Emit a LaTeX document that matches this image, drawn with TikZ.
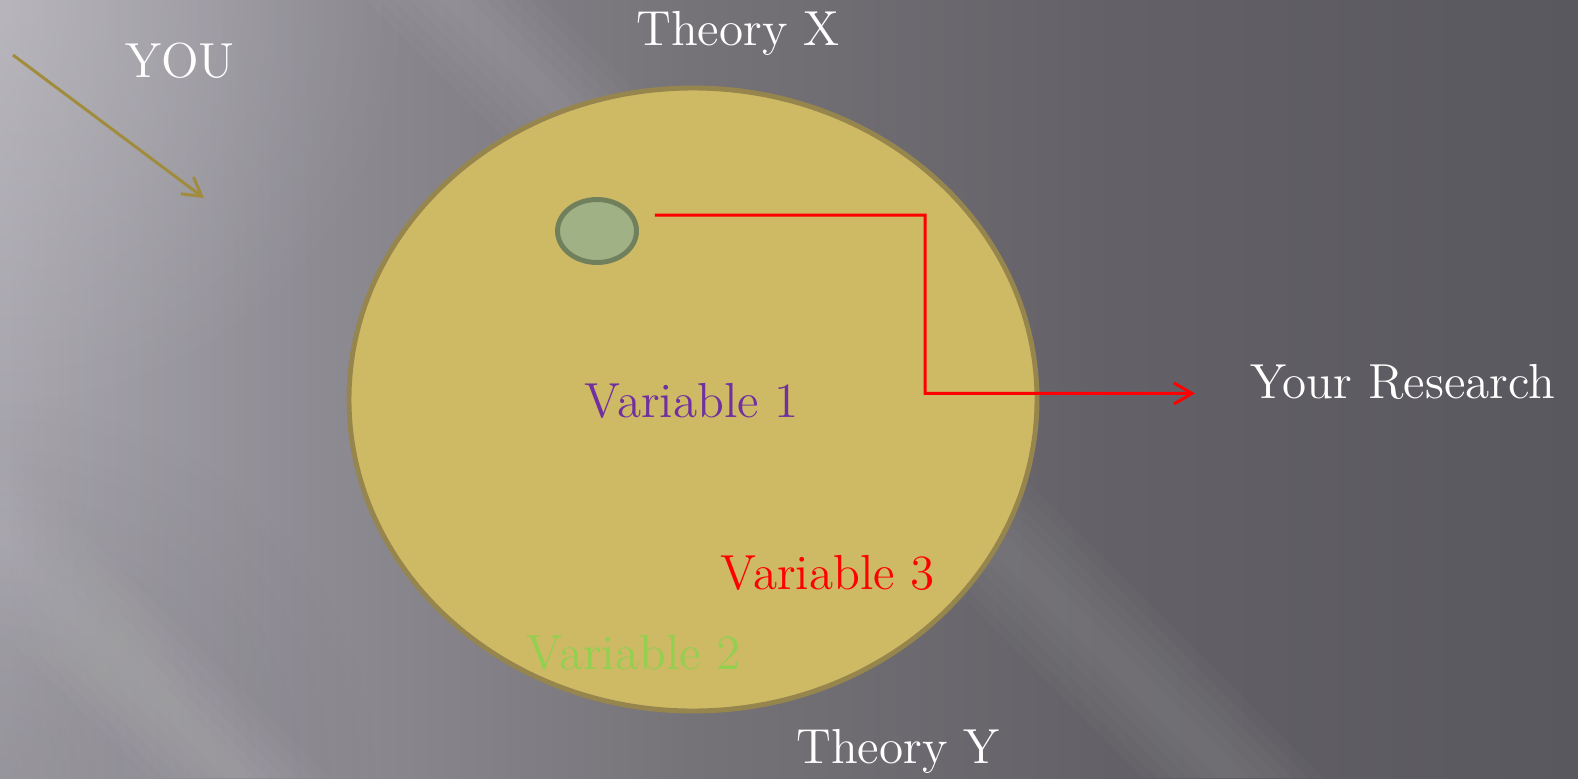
\documentclass[tikz,border=0pt]{standalone}
\usetikzlibrary{shapes.geometric,arrows.meta,fadings}

\definecolor{fieldFill}{RGB}{206,185,100}
\definecolor{fieldLine}{RGB}{150,134,78}
\definecolor{spotFill}{RGB}{160,177,133}
\definecolor{spotLine}{RGB}{112,127,92}
\definecolor{youArrow}{RGB}{160,140,60}
\definecolor{varPurple}{RGB}{112,48,160}
\definecolor{varGreen}{RGB}{146,208,80}

\pgfdeclarehorizontalshading{slide}{100bp}{%
  rgb(0bp)=(0.66,0.65,0.68); rgb(25bp)=(0.66,0.65,0.68);
  rgb(34.5bp)=(0.56,0.55,0.58); rgb(47bp)=(0.46,0.45,0.47);
  rgb(60bp)=(0.39,0.38,0.405); rgb(75bp)=(0.35,0.345,0.37);
  rgb(100bp)=(0.35,0.345,0.37)}
\tikzfading[name=glow, inner color=transparent!0, outer color=transparent!100]

\begin{document}
\begin{tikzpicture}[x=0.1mm, y=-0.1mm, font=\fontsize{14}{16}\selectfont,
    lbl/.style={anchor=base, inner sep=0pt, text=#1},
    lbl/.default=white,
    field/.style={draw=fieldLine, fill=fieldFill, ellipse, line width=1.4pt, inner sep=0pt,
        minimum width=68.8mm, minimum height=62.3mm},
    spot/.style={draw=spotLine, fill=spotFill, ellipse, line width=1.4pt, inner sep=0pt,
        minimum width=7.9mm, minimum height=6.3mm},
    tip/.style={-{Straight Barb[length=1.8mm,width=2.1mm]}, line width=0.85pt}]

  % ---------------- background ----------------
  \useasboundingbox (0,0) rectangle (1578,778);
  \shade[shading=slide] (0,0) rectangle (1578,778);
  \begin{scope}
    \clip (0,0) rectangle (1578,778);
    \fill[white, opacity=0.18, path fading=glow] (0,0) circle (420);
    \fill[black, opacity=0.10, path fading=glow] (0,778) circle (380);
    \foreach \w in {90,75,60,45,30,15} {
      \fill[white, opacity=0.018] (455-\w,0) -- (455+\w,0) -- (1233+\w,778) -- (1233-\w,778) -- cycle;
      \fill[white, opacity=0.02] (-300-\w,240) -- (-300+\w,240) -- (240+\w,778) -- (240-\w,778) -- cycle;
    }
  \end{scope}

  % ---------------- theory field ----------------
  \node[field] (fld) at (693,399.5) {};
  \node[spot] (spt) at (597,231) {};

  \node[lbl] (thx) at (738,45) {Theory X};
  \node[lbl] (thy) at (898,763) {Theory Y};
  \node[lbl] (you) at (180,77) {YOU};
  \node[lbl] (res) at (1403,398) {Your Research};

  \node[lbl=varPurple] (v1) at (692,417) {Variable 1};
  \node[lbl=red] (v3) at (828,589) {Variable 3};
  \node[lbl=varGreen] (v2) at (634,669) {Variable 2};

  % ---------------- arrows ----------------
  \coordinate (start) at (13,55);
  \coordinate (entry) at (204,198);
  \draw[tip, youArrow] (start) -- (entry);

  \coordinate (bend) at (925,215);
  \draw[tip, red] ([xshift=1.6mm, yshift=1.6mm]spt.east) -- (bend)
    |- ([xshift=-5.5mm, yshift=-1.2mm]res.west);
\end{tikzpicture}
\end{document}
